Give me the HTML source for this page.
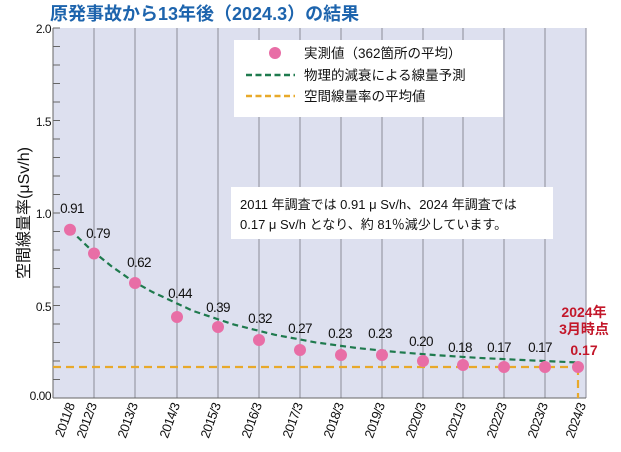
<!DOCTYPE html>
<html><head><meta charset="utf-8"><style>
html,body{margin:0;padding:0;background:#fff;}
svg{display:block;font-family:"Liberation Sans","Noto Sans CJK JP",sans-serif;}
</style></head><body>
<svg width="621" height="452" viewBox="0 0 621 452" xmlns="http://www.w3.org/2000/svg">
<text x="50" y="20" font-size="18" font-weight="bold" fill="#1d64ad">原発事故から13年後（2024.3）の結果</text>
<rect x="53" y="28" width="533" height="370" fill="#dde0ef"/>
<g stroke="#9a9aa6" stroke-width="1.2">
<line x1="94" y1="28" x2="94" y2="398"/><line x1="135" y1="28" x2="135" y2="398"/><line x1="177" y1="28" x2="177" y2="398"/><line x1="218" y1="28" x2="218" y2="398"/><line x1="259" y1="28" x2="259" y2="398"/><line x1="300" y1="28" x2="300" y2="398"/><line x1="341" y1="28" x2="341" y2="398"/><line x1="382" y1="28" x2="382" y2="398"/><line x1="423" y1="28" x2="423" y2="398"/><line x1="463" y1="28" x2="463" y2="398"/><line x1="504" y1="28" x2="504" y2="398"/><line x1="545" y1="28" x2="545" y2="398"/><line x1="586" y1="28" x2="586" y2="398"/>
</g>
<g stroke="#666" stroke-width="1">
<line x1="53" y1="28" x2="53" y2="398"/><line x1="53" y1="398" x2="586" y2="398"/>
<line x1="53" y1="28" x2="60" y2="28"/><line x1="53" y1="46.5" x2="60" y2="46.5"/><line x1="53" y1="65" x2="60" y2="65"/><line x1="53" y1="83.5" x2="60" y2="83.5"/><line x1="53" y1="102" x2="60" y2="102"/><line x1="53" y1="120.5" x2="60" y2="120.5"/><line x1="53" y1="139" x2="60" y2="139"/><line x1="53" y1="157.5" x2="60" y2="157.5"/><line x1="53" y1="176" x2="60" y2="176"/><line x1="53" y1="194.5" x2="60" y2="194.5"/><line x1="53" y1="213" x2="60" y2="213"/><line x1="53" y1="231.5" x2="60" y2="231.5"/><line x1="53" y1="250" x2="60" y2="250"/><line x1="53" y1="268.5" x2="60" y2="268.5"/><line x1="53" y1="287" x2="60" y2="287"/><line x1="53" y1="305.5" x2="60" y2="305.5"/><line x1="53" y1="324" x2="60" y2="324"/><line x1="53" y1="342.5" x2="60" y2="342.5"/><line x1="53" y1="361" x2="60" y2="361"/><line x1="53" y1="379.5" x2="60" y2="379.5"/>
</g>
<g font-size="12" fill="#111" text-anchor="end" letter-spacing="-0.5">
<text x="51" y="33">2.0</text><text x="51" y="126">1.5</text><text x="51" y="218">1.0</text><text x="51" y="311">0.5</text><text x="51" y="400">0.00</text>
</g>
<text transform="translate(29,213) rotate(-90)" font-size="16" text-anchor="middle" fill="#111">空間線量率(μSv/h)</text>
<line x1="53" y1="367" x2="586" y2="367" stroke="#e8a92a" stroke-width="2.2" stroke-dasharray="8,5"/>
<line x1="578" y1="367" x2="578" y2="398" stroke="#e8a92a" stroke-width="2.2" stroke-dasharray="8,5"/>
<polyline fill="none" stroke="#1f7a4e" stroke-width="2.2" stroke-dasharray="6,4" points="70,229.7 90.5,249.3 111,265.9 131,280 152,291.8 193,310.9 234,324.6 274.5,334.7 315,342.3 356,347.9 397,352.1 438,355.3 479,357.9 520,359.9 578,362.5"/>
<g fill="#e86ea6">
<circle cx="70" cy="229.7" r="6"/><circle cx="94" cy="253.5" r="6"/><circle cx="135" cy="283" r="6"/><circle cx="177" cy="317" r="6"/><circle cx="218" cy="327" r="6"/><circle cx="259" cy="340" r="6"/><circle cx="300" cy="350" r="6"/><circle cx="341" cy="355" r="6"/><circle cx="382" cy="355" r="6"/><circle cx="423" cy="361" r="6"/><circle cx="463" cy="365" r="6"/><circle cx="504" cy="367" r="6"/><circle cx="545" cy="367" r="6"/><circle cx="578" cy="367" r="6"/>
</g>
<g font-size="13.5" fill="#111" text-anchor="middle" letter-spacing="-0.6">
<text x="72" y="213">0.91</text><text x="98" y="238">0.79</text><text x="139" y="267">0.62</text><text x="180" y="298">0.44</text><text x="218" y="312">0.39</text><text x="260" y="323">0.32</text><text x="300" y="333">0.27</text><text x="340" y="338">0.23</text><text x="380" y="338">0.23</text><text x="421" y="346">0.20</text><text x="460" y="352">0.18</text><text x="499" y="352">0.17</text><text x="540" y="352">0.17</text>
</g>
<g font-size="14" fill="#c3172a" text-anchor="middle" font-weight="bold">
<text x="584" y="317">2024年</text><text x="584" y="334">3月時点</text><text x="584" y="355">0.17</text>
</g>
<g font-size="13" fill="#111" text-anchor="end" letter-spacing="-0.6">
<text transform="translate(75,405) rotate(-70)">2011/8</text>
<text transform="translate(97,405) rotate(-70)">2012/3</text>
<text transform="translate(138,405) rotate(-70)">2013/3</text>
<text transform="translate(180,405) rotate(-70)">2014/3</text>
<text transform="translate(221,405) rotate(-70)">2015/3</text>
<text transform="translate(262,405) rotate(-70)">2016/3</text>
<text transform="translate(303,405) rotate(-70)">2017/3</text>
<text transform="translate(344,405) rotate(-70)">2018/3</text>
<text transform="translate(385,405) rotate(-70)">2019/3</text>
<text transform="translate(426,405) rotate(-70)">2020/3</text>
<text transform="translate(466,405) rotate(-70)">2021/3</text>
<text transform="translate(507,405) rotate(-70)">2022/3</text>
<text transform="translate(548,405) rotate(-70)">2023/3</text>
<text transform="translate(586,405) rotate(-70)">2024/3</text>
</g>
<rect x="234" y="40" width="269" height="77" fill="#fff"/>
<circle cx="275" cy="53" r="6" fill="#e86ea6"/>
<line x1="246" y1="75" x2="295" y2="75" stroke="#1f7a4e" stroke-width="2.5" stroke-dasharray="6,3.5"/>
<line x1="246" y1="96" x2="295" y2="96" stroke="#e8a92a" stroke-width="2.5" stroke-dasharray="6,3.5"/>
<g font-size="13.5" fill="#111">
<text x="304" y="58">実測値（362箇所の平均）</text>
<text x="304" y="80">物理的減衰による線量予測</text>
<text x="304" y="101">空間線量率の平均値</text>
</g>
<rect x="231" y="187" width="322" height="52" fill="#fff"/>
<g font-size="13" fill="#111">
<text x="240" y="209">2011 年調査では 0.91 μ Sv/h、2024 年調査では</text>
<text x="240" y="229">0.17 μ Sv/h となり、約 81％減少しています。</text>
</g>
</svg>
</body></html>
